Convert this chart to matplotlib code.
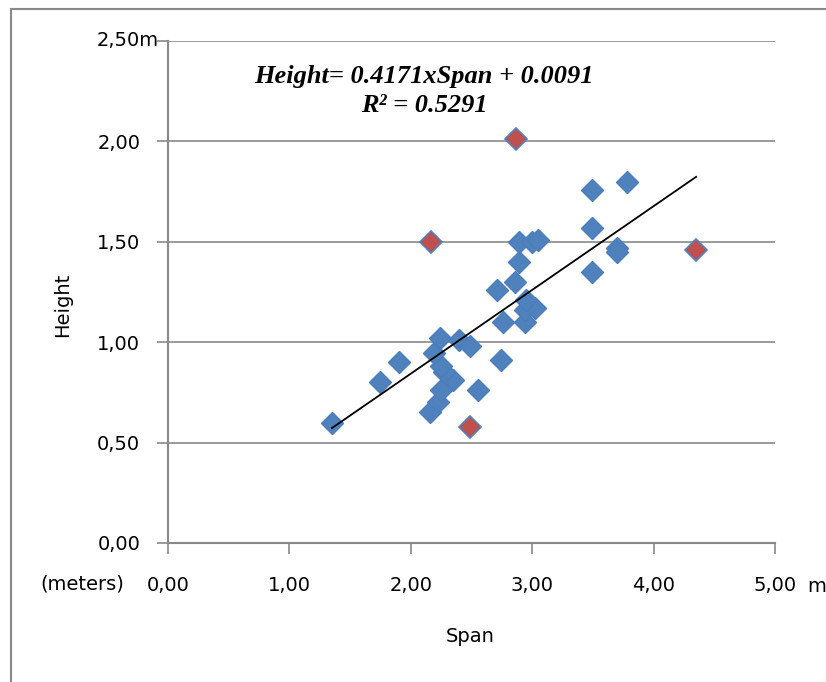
import matplotlib.pyplot as plt
from matplotlib.patches import Rectangle
import numpy as np

# span / height measurements (meters)
span_main = [1.35, 1.75, 1.90, 2.16, 2.22, 2.25, 2.35, 2.27, 2.25, 2.19, 2.24,
             2.40, 2.49, 2.55, 2.74, 2.76, 2.94, 2.94, 3.02, 2.95, 2.71, 2.86,
             2.89, 2.89, 3.00, 3.05, 3.49, 3.49, 3.49, 3.78, 3.70, 3.70]
height_main = [0.60, 0.80, 0.90, 0.65, 0.70, 0.76, 0.81, 0.85, 0.88, 0.945, 1.02,
               1.01, 0.98, 0.76, 0.91, 1.10, 1.10, 1.16, 1.17, 1.21, 1.26, 1.30,
               1.40, 1.50, 1.50, 1.51, 1.35, 1.57, 1.76, 1.80, 1.47, 1.45]

# highlighted points
span_red = [2.17, 2.87, 2.49, 4.35]
height_red = [1.50, 2.01, 0.58, 1.46]

# trendline from the chart label
SLOPE = 0.4171
INTERCEPT = 0.0091
R2 = 0.5291

x_ticks = [0, 1, 2, 3, 4, 5]
x_labels = ["0,00", "1,00", "2,00", "3,00", "4,00", "5,00"]
y_ticks = [0, 0.5, 1.0, 1.5, 2.0, 2.5]
y_labels = ["0,00", "0,50", "1,00", "1,50", "2,00", ""]

GRID = "#898989"
BLUE = "#4F81BD"
RED = "#C0504D"

plt.rcParams["font.family"] = "DejaVu Sans"

W, H = 826, 682
fig = plt.figure(figsize=(W / 100, H / 100), dpi=100)
ax = fig.add_axes([168 / W, (H - 543) / H, (775 - 168) / W, (543 - 41) / H])

# outer chart frame (runs off the right/bottom edge)
fig.patches.append(Rectangle((11 / W, -0.1), 1.2, (H - 9) / H + 0.1,
                             transform=fig.transFigure, fill=False,
                             edgecolor=GRID, linewidth=1.5))

ax.set_xlim(0, 5)
ax.set_ylim(0, 2.5)

# gridlines
for yv in y_ticks[1:]:
    ax.axhline(yv, color=GRID, linewidth=1.2, zorder=1)

ax.plot(span_main, height_main, linestyle="none", marker="D", markersize=11,
        markerfacecolor=BLUE, markeredgecolor="#4A7EBB", markeredgewidth=1, zorder=3)
ax.plot(span_red, height_red, linestyle="none", marker="D", markersize=11,
        markerfacecolor=RED, markeredgecolor="#4F81BD", markeredgewidth=1.2, zorder=3)

all_span = np.array(span_main + span_red)
xx = np.array([all_span.min(), all_span.max()])
ax.plot(xx, SLOPE * xx + INTERCEPT, color="black", linewidth=1.3, zorder=4)

for s in ["top", "right"]:
    ax.spines[s].set_visible(False)
for s in ["left", "bottom"]:
    ax.spines[s].set_color(GRID)
    ax.spines[s].set_linewidth(1.5)

ax.set_xticks(x_ticks)
ax.set_xticklabels(x_labels)
ax.set_yticks(y_ticks)
ax.set_yticklabels(y_labels)
ax.tick_params(axis="both", direction="out", length=8, width=1.2, color=GRID,
               labelsize=14, labelcolor="#000000")
ax.tick_params(axis="y", pad=12)
ax.tick_params(axis="x", pad=16)

# unit annotations
fig.text(97 / W, 1 - 41 / H, "2,50m", fontsize=14, ha="left", va="center")
fig.text(124 / W, 1 - 584 / H, "(meters)", fontsize=14, ha="right", va="center")
fig.text(807 / W, 1 - 587 / H, "m", fontsize=14, ha="left", va="center")

fig.text(470 / W, 1 - 637 / H, "Span", fontsize=14, ha="center", va="center")
fig.text(63 / W, 1 - 305 / H, "Height", fontsize=14, ha="center", va="center",
         rotation=90)

eq = f"Height= {SLOPE}xSpan + {INTERCEPT}"
fig.text(424 / W, 1 - 76 / H, eq, fontsize=19, ha="center", va="center",
         family="Liberation Serif", style="italic", weight="bold")
fig.text(424 / W, 1 - 106 / H, f"R² = {R2}", fontsize=19, ha="center", va="center",
         family="Liberation Serif", style="italic", weight="bold")

fig.savefig("out.png", dpi=100)
